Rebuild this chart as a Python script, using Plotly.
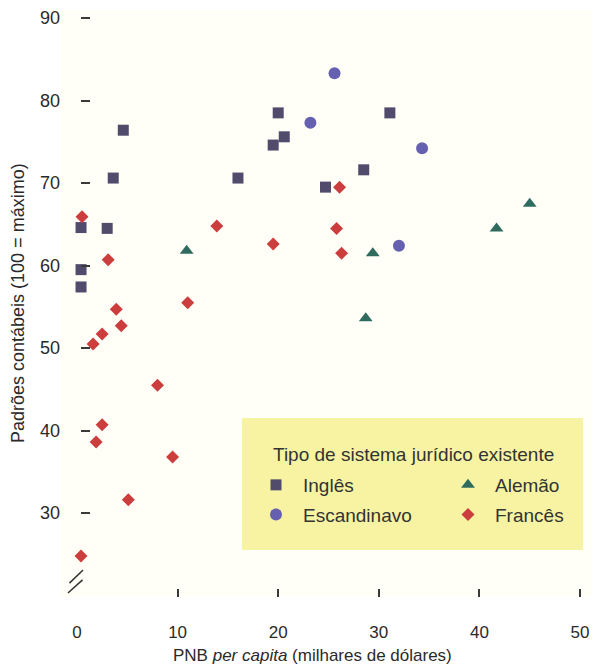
import plotly.graph_objects as go

# GNP per capita (thousand US$) vs. accounting standards index, by legal system
ingles_x = [0.4, 0.4, 0.4, 3.0, 3.6, 4.6, 16.0, 19.5, 20.0, 20.6, 24.7, 28.5, 31.1]
ingles_y = [64.6, 59.5, 57.4, 64.5, 70.6, 76.4, 70.6, 74.6, 78.5, 75.6, 69.5, 71.6, 78.5]

escandinavo_x = [25.6, 23.2, 34.3, 32.0]
escandinavo_y = [83.3, 77.3, 74.2, 62.4]

alemao_x = [10.9, 29.4, 28.7, 41.7, 45.0]
alemao_y = [61.8, 61.5, 53.6, 64.5, 67.5]

frances_x = [0.5, 3.1, 3.9, 4.4, 11.0, 13.9, 19.5, 26.1, 25.8, 26.3,
             2.5, 1.6, 8.0, 2.5, 1.9, 9.5, 5.1, 0.4]
frances_y = [65.9, 60.7, 54.7, 52.7, 55.5, 64.8, 62.6, 69.5, 64.5, 61.5,
             51.7, 50.5, 45.5, 40.7, 38.6, 36.8, 31.6, 24.8]

x_ticks = [0, 10, 20, 30, 40, 50]
x_tick_marks = [10, 20, 30, 40, 50]
y_ticks = [30, 40, 50, 60, 70, 80, 90]

FONT = "Liberation Sans, Arial, sans-serif"
TXT = "#2a2a2a"

fig = go.Figure()

series = [
    ("Inglês", ingles_x, ingles_y, "square", 11, "#514b6c", "legend"),
    ("Escandinavo", escandinavo_x, escandinavo_y, "circle", 12, "#6660b0", "legend"),
    ("Alemão", alemao_x, alemao_y, "triangle-up", 12, "#2f6c5d", "legend2"),
    ("Francês", frances_x, frances_y, "diamond", 10, "#cc3e3d", "legend2"),
]
for name, xs, ys, sym, size, col, leg in series:
    fig.add_trace(go.Scatter(
        x=xs, y=ys, mode="markers", name=name, legend=leg, legendgroup=name,
        marker=dict(symbol=sym, size=size, color=col, line=dict(width=0)),
        cliponaxis=False,
    ))

# empty trace so the tick-mark axis (no 0 tick, break marks sit there) is built
fig.add_trace(go.Scatter(x=[], y=[], xaxis="x2", yaxis="y", mode="markers",
                         showlegend=False, hoverinfo="skip"))

X_RANGE = [-1.69, 51.19]
Y_RANGE = [19.82, 90.97]

fig.update_layout(
    width=595, height=668,
    margin=dict(l=60, r=3, t=10, b=71),
    paper_bgcolor="white",
    plot_bgcolor="#fffff8",
    font=dict(family=FONT, color=TXT, size=18),
    xaxis=dict(
        range=X_RANGE, tickmode="array", tickvals=x_ticks,
        ticks="", showgrid=False, zeroline=False, showline=False,
        tickfont=dict(size=17, color=TXT), ticklabelstandoff=23,
    ),
    xaxis2=dict(
        range=X_RANGE, overlaying="x", anchor="y", side="bottom",
        tickmode="array", tickvals=x_tick_marks, ticks="inside",
        ticklen=8, tickwidth=1.5, tickcolor="#3a3a3a",
        showticklabels=False, showgrid=False, zeroline=False, showline=False,
    ),
    yaxis=dict(
        range=Y_RANGE, tickmode="array", tickvals=y_ticks,
        anchor="free", position=(80 - 60) / 532,
        ticks="inside", ticklen=9, tickwidth=1.5, tickcolor="#3a3a3a",
        showgrid=False, zeroline=False, showline=False,
        tickfont=dict(size=18, color=TXT), ticklabelstandoff=20,
    ),
    legend=dict(
        x=(249 - 60) / 532, y=(597 - 466) / 587, xanchor="left", yanchor="top",
        bgcolor="rgba(0,0,0,0)", borderwidth=0, itemwidth=44,
        tracegroupgap=2, font=dict(size=19, color="#333333"),
    ),
    legend2=dict(
        x=(441 - 60) / 532, y=(597 - 466) / 587, xanchor="left", yanchor="top",
        bgcolor="rgba(0,0,0,0)", borderwidth=0, itemwidth=44,
        tracegroupgap=2, font=dict(size=19, color="#333333"),
    ),
    showlegend=True,
)

# legend panel
fig.add_shape(type="rect", xref="paper", yref="paper",
              x0=0.342, x1=0.983, y0=0.080, y1=0.305,
              fillcolor="#f7f3a2", line=dict(width=0), layer="below")

# axis break marks near the origin
for (x0, y0, x1, y1) in [(-0.75, 21.5, 0.6, 23.1), (-0.9, 20.3, 0.55, 21.9)]:
    fig.add_shape(type="line", xref="x", yref="y", x0=x0, y0=y0, x1=x1, y1=y1,
                  line=dict(color="#333333", width=1.5))

fig.add_annotation(text="Tipo de sistema jurídico existente",
                   xref="paper", yref="paper", x=(271 - 60) / 532, y=(597 - 454) / 587,
                   xanchor="left", yanchor="middle", showarrow=False,
                   font=dict(size=19, color="#333333"))

fig.add_annotation(text="PNB <i>per capita</i> (milhares de dólares)",
                   xref="paper", yref="paper", x=(171 - 60) / 532, y=(597 - 655) / 587,
                   xanchor="left", yanchor="middle", showarrow=False,
                   font=dict(size=17, color=TXT))

fig.add_annotation(text="Padrões contábeis (100 = máximo)",
                   xref="paper", yref="paper", x=(18 - 60) / 532, y=(597 - 303) / 587,
                   xanchor="center", yanchor="middle", textangle=-90, showarrow=False,
                   font=dict(size=18, color=TXT))

fig.write_html("out.html")
